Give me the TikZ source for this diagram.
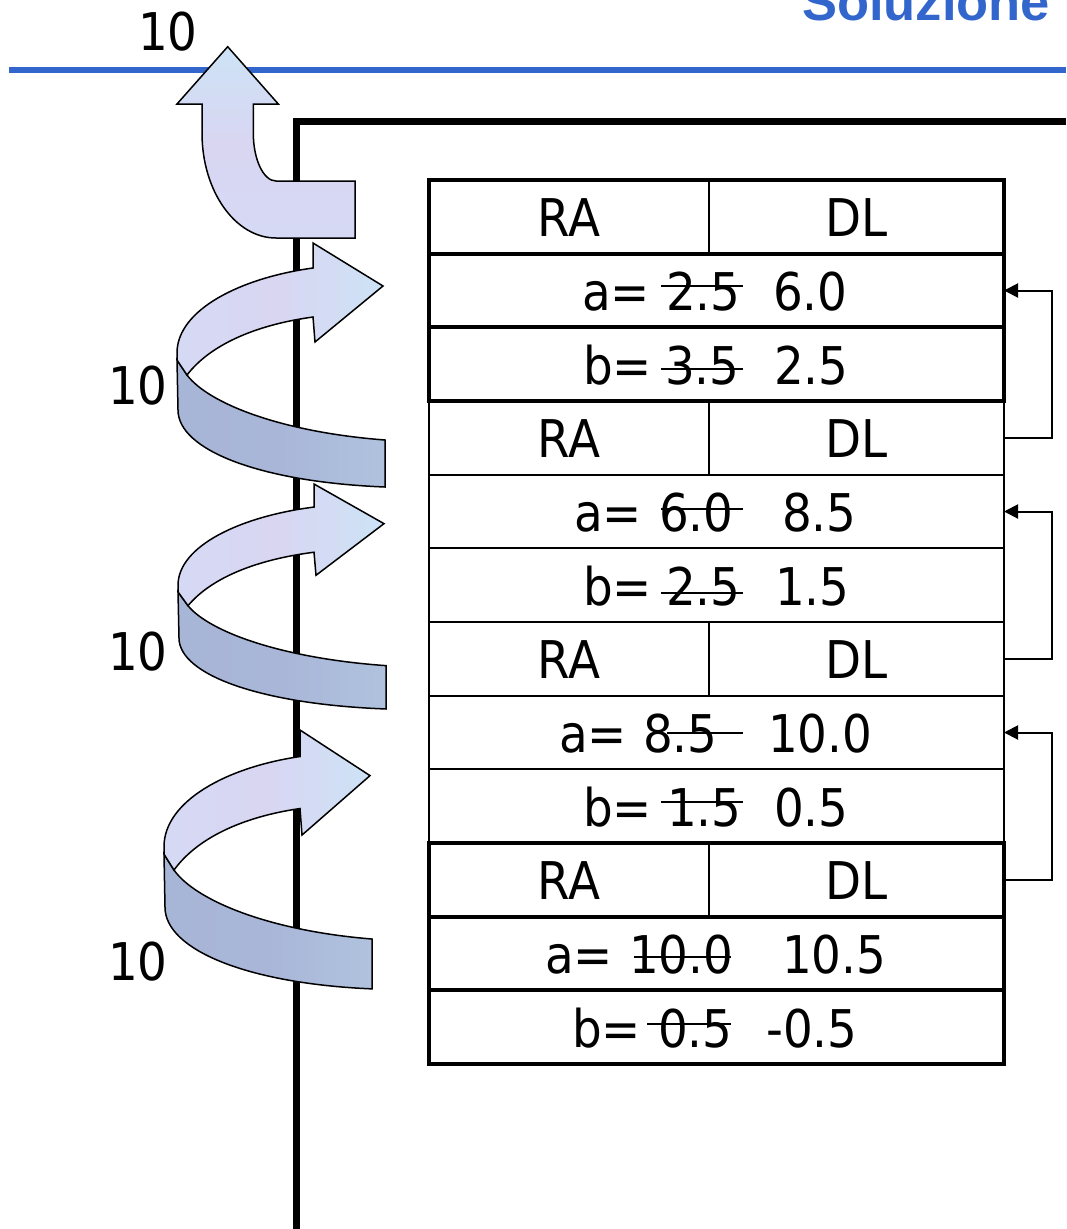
\documentclass[tikz,border=0pt]{standalone}
\usepackage{fontspec}
\setmainfont{DejaVu Sans}[FakeStretch=0.9]
\newfontfamily\titlefont{Liberation Sans}
\usetikzlibrary{arrows.meta}
\definecolor{blueline}{HTML}{3366CC}
\definecolor{lbA}{HTML}{D6D9F4}
\definecolor{lbB}{HTML}{CCE3F6}
\definecolor{lbC}{HTML}{D9D6F2}
\definecolor{dbA}{HTML}{A7B5D6}
\definecolor{dbB}{HTML}{B0C2DE}
\definecolor{dbC}{HTML}{A9B6D8}
\newcommand{\spiralarrow}[3]{%
\begin{scope}[shift={(#1,#2)}, yscale=#3]
 \path[darkband] (-136,117) -- (-126,132) .. controls (-105,160) and (-33,189) .. (72,197) -- (72,244) .. controls (-53,239) and (-135,207) .. (-135,167) -- cycle;
 \path[lightband] (0,25) -- (0,0) -- (70,43) -- (2,99) -- (0,74) .. controls (-58,82) and (-103,102) .. (-126,132) -- (-136,117) -- (-136,110) .. controls (-136,67) and (-73,35) .. (0,25) -- cycle;
\end{scope}}
\begin{document}
\begin{tikzpicture}[x=1pt,y=-1pt,
  txt/.style={font=\fontsize{52}{60}\selectfont},
  lbl/.style={txt, anchor=base west, inner sep=0},
  val/.style={txt, anchor=base west, inner sep=0},
  cell/.style={draw, line width=2, minimum width=575, minimum height=73.67, inner sep=0, outer sep=0,
               txt, text height=40pt, text depth=0pt},
  cellthick/.style={cell, line width=4},
  thickframe/.style={draw, line width=4},
  strike/.style={draw, line width=2.6},
  conn/.style={draw, line width=2, -{Triangle[length=14,width=14]}},
  lightband/.style={draw=black, line width=1.5, left color=lbA, right color=lbB, middle color=lbC},
  darkband/.style={draw=black, line width=1.5, left color=dbA, right color=dbB, middle color=dbC},
  toparrow/.style={draw=black, line width=1.5, top color=lbB, bottom color=lbA, middle color=lbC}]
\useasboundingbox (0,0) rectangle (1066,1229);

% title and rule
\node[anchor=base west, inner sep=0, text=blueline, font=\titlefont\bfseries\fontsize{52.5}{60}\selectfont] (title) at (802,20) {Soluzione};
\coordinate (bl) at (9,70);
\coordinate (br) at (1066,70);
\draw[draw=blueline, line width=6] (bl) -- (br);

% frame (pole)
\coordinate (pb) at (296.5,1229);
\coordinate (pc) at (296.5,121.5);
\coordinate (pr) at (1066,121.5);
\draw[line width=7, line join=miter] (pb) -- (pc) -- (pr);

% labels
\node[lbl] (l0) at (138,50) {10};
\node[lbl] (l1) at (108,404) {10};
\node[lbl] (l2) at (108,670) {10};
\node[lbl] (l3) at (108,980) {10};

% top return arrow
\path[toparrow] (227.7,46.7) -- (278.3,104) -- (253.3,104) -- (253.3,133)
  .. controls (253.3,159.5) and (263.5,181) .. (276,181) -- (355,181) -- (355,238) -- (276,238)
  .. controls (235.1,238) and (202,191) .. (202,133) -- (202,104) -- (177,104) -- cycle;

% spiral arrows
\spiralarrow{313}{243}{1}
\spiralarrow{314}{484}{0.922}
\spiralarrow{300}{730}{1.061}

% table: frame 1
\node[cell, minimum width=280] (ra0) at (569,216.8) {RA};
\node[cell, minimum width=295] (dl0) at (856.5,216.8) {DL};
\node[cellthick] (r1) at (716.5,290.5) {};
\node[cellthick] (r2) at (716.5,364.2) {};
\draw[thickframe] (ra0.north west) rectangle (dl0.south east);
% frame 2
\node[cell, minimum width=280] (ra3) at (569,437.8) {RA};
\node[cell, minimum width=295] (dl3) at (856.5,437.8) {DL};
\node[cell] (r4) at (716.5,511.5) {};
\node[cell] (r5) at (716.5,585.2) {};
% frame 3
\node[cell, minimum width=280] (ra6) at (569,658.8) {RA};
\node[cell, minimum width=295] (dl6) at (856.5,658.8) {DL};
\node[cell] (r7) at (716.5,732.5) {};
\node[cell] (r8) at (716.5,806.2) {};
% frame 4
\node[cell, minimum width=280] (ra9) at (569,879.8) {RA};
\node[cell, minimum width=295] (dl9) at (856.5,879.8) {DL};
\node[cellthick] (r10) at (716.5,953.5) {};
\node[cellthick] (r11) at (716.5,1027.2) {};
\draw[thickframe] (ra9.north west) rectangle (dl9.south east);

% values
\node[val] (a1p) at (582,310.5) {a=};
\node[val] (a1o) at (666,310.5) {2.5};
\node[val] (a1n) at (773,310.5) {6.0};
\draw[strike] (661,286) -- (743,286);

\node[val] (b2p) at (583,384.2) {b=};
\node[val] (b2o) at (665,384.2) {3.5};
\node[val] (b2n) at (774,384.2) {2.5};
\draw[strike] (661,369) -- (743,369);

\node[val] (a4p) at (574,531.5) {a=};
\node[val] (a4o) at (659,531.5) {6.0};
\node[val] (a4n) at (782,531.5) {8.5};
\draw[strike] (661,509) -- (743,509);

\node[val] (b5p) at (583,605.2) {b=};
\node[val] (b5o) at (666,605.2) {2.5};
\node[val] (b5n) at (775,605.2) {1.5};
\draw[strike] (661,593) -- (743,593);

\node[val] (a7p) at (559,752.5) {a=};
\node[val] (a7o) at (643,752.5) {8.5};
\node[val] (a7n) at (768,752.5) {10.0};
\draw[strike] (667,733) -- (743,733);

\node[val] (b8p) at (583,826.2) {b=};
\node[val] (b8o) at (667,826.2) {1.5};
\node[val] (b8n) at (774,826.2) {0.5};
\draw[strike] (661,802) -- (743,802);

\node[val] (a10p) at (545,973.5) {a=};
\node[val] (a10o) at (629,973.5) {10.0};
\node[val] (a10n) at (782,973.5) {10.5};
\draw[strike] (634,957) -- (731,957);

\node[val] (b11p) at (572,1047.2) {b=};
\node[val] (b11o) at (658,1047.2) {0.5};
\node[val] (b11n) at (766,1047.2) {-0.5};
\draw[strike] (647,1024) -- (731,1024);

% return connectors
\draw[conn] (dl3.east) -- ++(48,0) |- (r1.east);
\draw[conn] (dl6.east) -- ++(48,0) |- (r4.east);
\draw[conn] (dl9.east) -- ++(48,0) |- (r7.east);
\end{tikzpicture}
\end{document}
